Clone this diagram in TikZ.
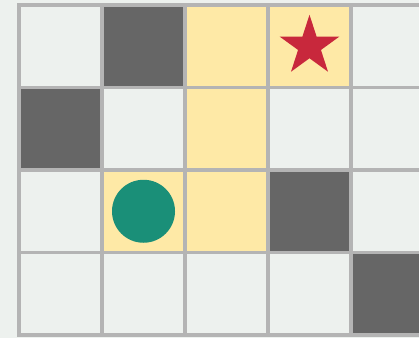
\documentclass[tikz,border=0pt]{standalone}
\usetikzlibrary{shapes.geometric}
\definecolor{floorgray}{HTML}{EDF1EE}
\definecolor{wallgray}{HTML}{666666}
\definecolor{pathyellow}{HTML}{FEE9A6}
\definecolor{linegray}{HTML}{B4B4B4}
\definecolor{goalred}{HTML}{C8283C}
\definecolor{agentteal}{HTML}{1A8F78}
\tikzset{
  gridline/.style={draw=linegray, line width=3.5pt},
  goal/.style={star, star points=5, star point ratio=2.618, fill=goalred,
    minimum size=63pt, inner sep=0pt},
  agent/.style={circle, fill=agentteal, minimum size=63pt, inner sep=0pt}
}
\begin{document}
\begin{tikzpicture}[x=1pt, y=-1pt]
  \fill[floorgray] (0,0) rectangle (419,338);
  \clip (0,0) rectangle (419,338);
  % 벽 칸
  \foreach \c/\r in {1/0, 0/1, 3/2, 4/3}{
    \fill[wallgray] (19+83*\c,5+82.5*\r) rectangle +(83,82.5);
  }
  % 경로 칸
  \foreach \c/\r in {2/0, 3/0, 2/1, 1/2, 2/2}{
    \fill[pathyellow] (19+83*\c,5+82.5*\r) rectangle +(83,82.5);
  }
  % 격자선
  \foreach \c in {0,...,5}{
    \draw[gridline] (19+83*\c,5) -- (19+83*\c,335);
  }
  \foreach \r in {0,...,4}{
    \draw[gridline] (17.25,5+82.5*\r) -- (440,5+82.5*\r);
  }
  \node[goal] (goal) at (309.5,46.25) {};
  \node[agent] (agent) at (143.5,211.25) {};
\end{tikzpicture}
\end{document}
